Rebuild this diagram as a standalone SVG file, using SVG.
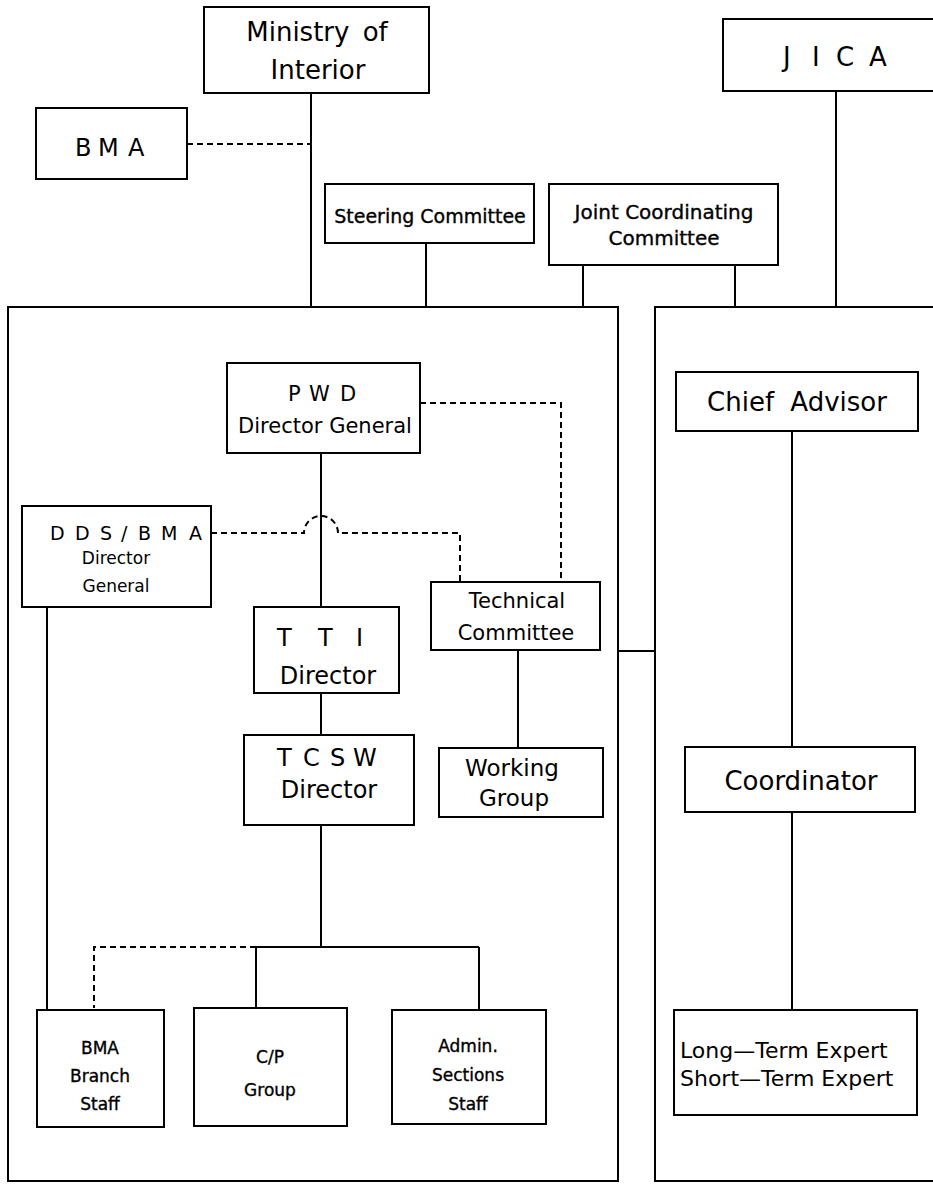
<svg xmlns="http://www.w3.org/2000/svg" width="933" height="1187" viewBox="0 0 933 1187">
<style>
.b{fill:#fff;stroke:#000;stroke-width:2}
.c{fill:none;stroke:#000;stroke-width:2}
.d{fill:none;stroke:#000;stroke-width:2;stroke-dasharray:6,4}
text{font-family:"DejaVu Sans","Open Sans",sans-serif;fill:#000;text-anchor:middle}
.s{text-anchor:start}
.m{stroke:#000;stroke-width:0.35}
</style>
<rect width="933" height="1187" fill="#fff"/>
<g id="connectors">
<path class="c" d="M311,93V307"/>
<path class="d" d="M187,144H311"/>
<path class="c" d="M426,243V307"/>
<path class="c" d="M583,265V307"/>
<path class="c" d="M735,265V307"/>
<path class="c" d="M836,91V307"/>
<path class="c" d="M618,651H655"/>
<path class="c" d="M321,453V607"/>
<path class="d" d="M420,403H561V582"/>
<path class="d" d="M211,533H304A17,17 0 0 1 338,533H460V582"/>
<path class="c" d="M321,693V735"/>
<path class="c" d="M518,650V748"/>
<path class="c" d="M321,825V947"/>
<path class="c" d="M256,947H479"/>
<path class="d" d="M256,947H94V1008"/>
<path class="c" d="M256,947V1012"/>
<path class="c" d="M479,947V1012"/>
<path class="c" d="M47,607V1012"/>
<path class="c" d="M792,431V747"/>
<path class="c" d="M792,812V1010"/>
</g>
<g id="frame-left"><rect class="c" x="8" y="307" width="610" height="874"/></g>
<g id="frame-right"><rect class="c" x="655" y="307" width="300" height="874"/></g>
<g id="ministry"><rect class="b" x="204" y="7" width="225" height="86"/><text x="317" y="41" font-size="26" word-spacing="5">Ministry of</text><text x="318" y="79" font-size="26">Interior</text></g>
<g id="bma"><rect class="b" x="36" y="108" width="151" height="71"/><text class="s" x="75 98 128" y="156" font-size="24">BMA</text></g>
<g id="jica"><rect class="b" x="723" y="19" width="222" height="72"/><text class="s" x="783 812 836 869" y="66" font-size="26">JICA</text></g>
<g id="steering"><rect class="b" x="325" y="184" width="209" height="59"/><text class="m" x="430" y="223" font-size="19">Steering Committee</text></g>
<g id="jcc"><rect class="b" x="549" y="184" width="229" height="81"/><text class="m" x="664" y="219" font-size="20">Joint Coordinating</text><text class="m" x="664" y="245" font-size="20">Committee</text></g>
<g id="pwd"><rect class="b" x="227" y="363" width="193" height="90"/><text class="s" x="288 309 340" y="401" font-size="21">PWD</text><text x="325" y="433" font-size="21">Director General</text></g>
<g id="dds"><rect class="b" x="22" y="506" width="189" height="101"/><text class="s" x="50 75 100 121 138 161 189" y="540" font-size="19">DDS/BMA</text><text x="116" y="564" font-size="17">Director</text><text x="116" y="592" font-size="17">General</text></g>
<g id="tti"><rect class="b" x="254" y="607" width="145" height="86"/><text class="s" x="277 318 356" y="646" font-size="24">TTI</text><text x="328" y="684" font-size="24">Director</text></g>
<g id="tcsw"><rect class="b" x="244" y="735" width="170" height="90"/><text class="s" x="277 303 330 353" y="766" font-size="24">TCSW</text><text x="329" y="798" font-size="24">Director</text></g>
<g id="techcom"><rect class="b" x="431" y="582" width="169" height="68"/><text x="517" y="608" font-size="21">Technical</text><text x="516" y="640" font-size="21">Committee</text></g>
<g id="working"><rect class="b" x="439" y="748" width="164" height="69"/><text x="512" y="776" font-size="23">Working</text><text x="514" y="806" font-size="23">Group</text></g>
<g id="bmabranch"><rect class="b" x="37" y="1010" width="127" height="117"/><text class="m" x="100" y="1054" font-size="17">BMA</text><text class="m" x="100" y="1082" font-size="17">Branch</text><text class="m" x="100" y="1110" font-size="17">Staff</text></g>
<g id="cp"><rect class="b" x="194" y="1008" width="153" height="118"/><text class="m" x="270" y="1063" font-size="17">C/P</text><text class="m" x="270" y="1096" font-size="17">Group</text></g>
<g id="admin"><rect class="b" x="392" y="1010" width="154" height="114"/><text class="m" x="468" y="1052" font-size="17">Admin.</text><text class="m" x="468" y="1081" font-size="17">Sections</text><text class="m" x="468" y="1110" font-size="17">Staff</text></g>
<g id="chief"><rect class="b" x="676" y="372" width="242" height="59"/><text x="797" y="411" font-size="26" word-spacing="8">Chief Advisor</text></g>
<g id="coord"><rect class="b" x="685" y="747" width="230" height="65"/><text x="801" y="790" font-size="26">Coordinator</text></g>
<g id="experts"><rect class="b" x="674" y="1010" width="243" height="105"/><text class="s" x="680" y="1058" font-size="22">Long—Term Expert</text><text class="s" x="680" y="1086" font-size="22">Short—Term Expert</text></g>
</svg>
